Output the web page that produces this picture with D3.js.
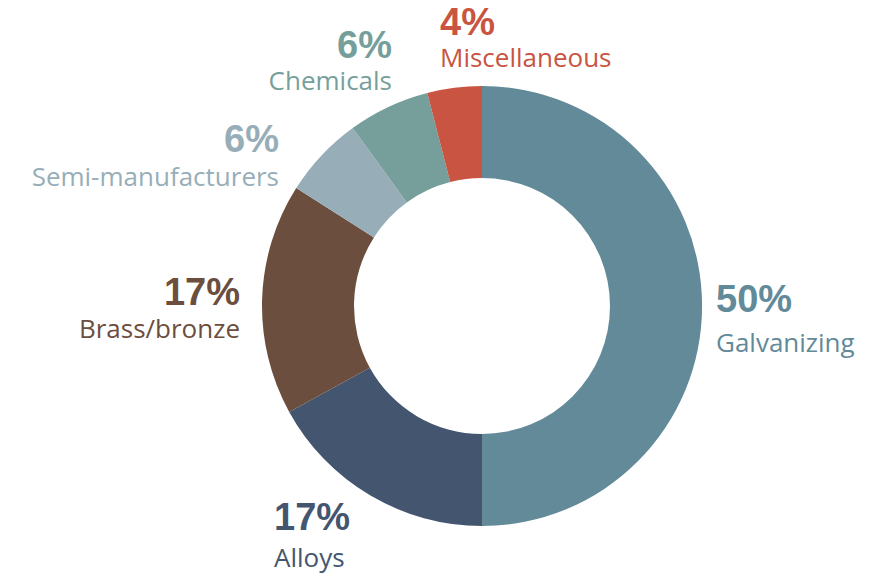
<!DOCTYPE html>
<html><head><meta charset="utf-8">
<script src="https://cdn.jsdelivr.net/npm/d3@7"></script>
<style>body{margin:0;background:#fff}</style></head>
<body><svg id="c" width="876" height="577"></svg>
<script>
const categories = ["Galvanizing","Alloys","Brass/bronze","Semi-manufacturers","Chemicals","Miscellaneous"];
const values = [50,17,17,6,6,4];
const pctLabels = ["50%","17%","17%","6%","6%","4%"];
const colors = ["#628a99","#44566f","#6b4e3d","#97aeb9","#769f9b","#c85441"];
// label layout: x, anchor, pct baseline, name baseline
const labelLayout = [
  [716,"start",312,352],
  [274,"start",530,567],
  [240,"end",305,338],
  [279,"end",152,186],
  [392,"end",58,90],
  [440,"start",35,67]
];
const svg = d3.select("#c");
const g = svg.append("g").attr("transform","translate(482,306)");
const pie = d3.pie().sort(null).value(d=>d)(values);
const arc = d3.arc().innerRadius(128).outerRadius(220);
g.selectAll("path").data(pie).join("path").attr("d",arc).attr("fill",(d,i)=>colors[i]);
categories.forEach((c,i)=>{
  const [x,a,py,ny]=labelLayout[i];
  svg.append("text").attr("x",x).attr("y",py).attr("text-anchor",a)
    .attr("font-family","'Liberation Sans Narrow','Arial Narrow',sans-serif").attr("font-weight","bold")
    .attr("font-size",38).attr("fill",colors[i]).text(pctLabels[i]);
  svg.append("text").attr("x",x).attr("y",ny).attr("text-anchor",a)
    .attr("font-family","'Open Sans',sans-serif").attr("font-size",26).attr("fill",colors[i]).text(c);
});
</script></body></html>
